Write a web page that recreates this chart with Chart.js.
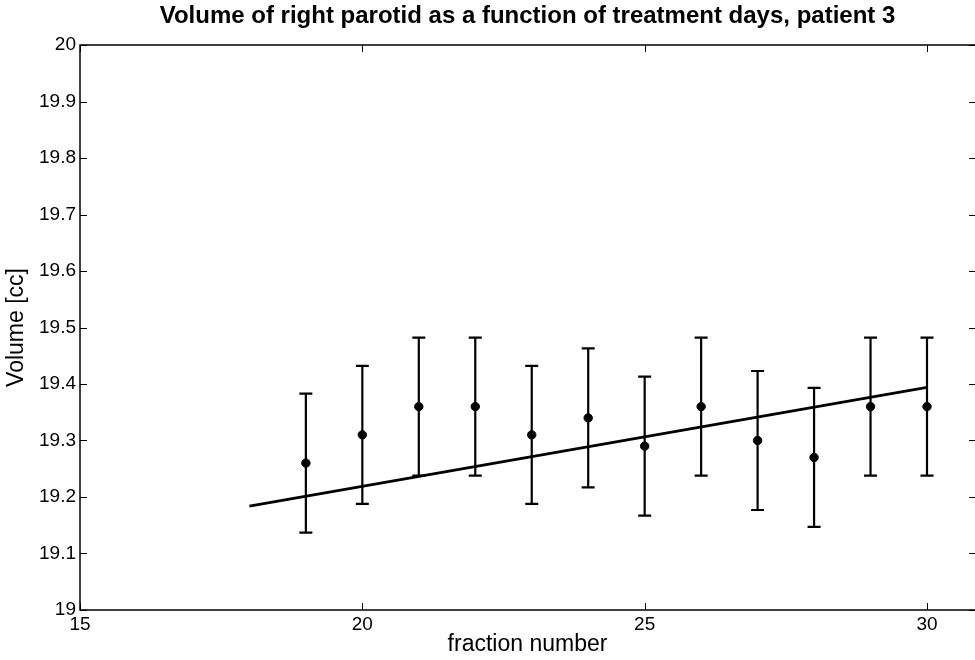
<!DOCTYPE html>
<html>
<head>
<meta charset="utf-8">
<title>Volume of right parotid</title>
<script src="https://cdn.jsdelivr.net/npm/chart.js@4.4.1/dist/chart.umd.min.js"></script>
<style>
  html, body { margin: 0; padding: 0; background: #fff; }
  #wrap { width: 975px; height: 660px; position: relative; }
</style>
</head>
<body>
<div id="wrap"><canvas id="chart" width="975" height="660"></canvas></div>
<script>
// Measured volumes per treatment fraction, with their uncertainty
const fractions = [19, 20, 21, 22, 23, 24, 25, 26, 27, 28, 29, 30];
const volumes   = [19.26, 19.31, 19.36, 19.36, 19.31, 19.34, 19.29, 19.36, 19.30, 19.27, 19.36, 19.36];
const errors    = [0.123, 0.122, 0.122, 0.122, 0.122, 0.123, 0.123, 0.122, 0.123, 0.123, 0.122, 0.122];

// Linear trend line end points
const fitX = [18, 30];
const fitY = [19.184, 19.394];

// Axis ticks
const xTicks = [15, 20, 25, 30];
const yTicks = [19, 19.1, 19.2, 19.3, 19.4, 19.5, 19.6, 19.7, 19.8, 19.9, 20];

const titleText = 'Volume of right parotid as a function of treatment days, patient 3';
const FONT = '"Liberation Sans", Arial, Helvetica, sans-serif';

// Vertical error bars with caps, drawn through the chart scales
const errorBars = {
  id: 'errorBars',
  beforeDatasetsDraw(chart) {
    const { ctx, scales: { x, y } } = chart;
    ctx.save();
    ctx.strokeStyle = '#000';
    ctx.lineWidth = 2.2;
    const cap = 6.5;
    fractions.forEach((f, i) => {
      const px = x.getPixelForValue(f);
      const top = y.getPixelForValue(volumes[i] + errors[i]);
      const bot = y.getPixelForValue(volumes[i] - errors[i]);
      ctx.beginPath();
      ctx.moveTo(px, top); ctx.lineTo(px, bot);
      ctx.moveTo(px - cap, top); ctx.lineTo(px + cap, top);
      ctx.moveTo(px - cap, bot); ctx.lineTo(px + cap, bot);
      ctx.stroke();
    });
    ctx.restore();
  }
};

// Axis lines with inward ticks on all four sides, plus the title
const frame = {
  id: 'frame',
  afterDraw(chart) {
    const { ctx, chartArea: a, scales: { x, y } } = chart;
    const t = 7;
    ctx.save();
    ctx.strokeStyle = '#000';
    ctx.lineWidth = 1.5;
    ctx.beginPath();
    ctx.moveTo(a.right + 2, a.top); ctx.lineTo(a.left, a.top);
    ctx.lineTo(a.left, a.bottom); ctx.lineTo(a.right + 2, a.bottom);
    ctx.stroke();
    ctx.lineWidth = 1;
    ctx.beginPath();
    xTicks.forEach(v => {
      const px = Math.round(x.getPixelForValue(v)) + 0.5;
      ctx.moveTo(px, a.bottom); ctx.lineTo(px, a.bottom - t);
      ctx.moveTo(px, a.top); ctx.lineTo(px, a.top + t);
    });
    yTicks.forEach(v => {
      const py = Math.round(y.getPixelForValue(v)) + 0.5;
      ctx.moveTo(a.left, py); ctx.lineTo(a.left + t, py);
      ctx.moveTo(a.right, py); ctx.lineTo(a.right - t + 1, py);
    });
    ctx.stroke();

    ctx.fillStyle = '#000';
    ctx.font = 'bold 24px ' + FONT;
    ctx.textAlign = 'center';
    ctx.textBaseline = 'middle';
    ctx.fillText(titleText, (a.left + a.right) / 2, 16);
    ctx.restore();
  }
};

new Chart(document.getElementById('chart'), {
  type: 'scatter',
  data: {
    datasets: [
      {
        label: 'trend',
        type: 'line',
        data: fitX.map((v, i) => ({ x: v, y: fitY[i] })),
        borderColor: '#000',
        borderWidth: 2.8,
        pointRadius: 0,
        fill: false,
        order: 2
      },
      {
        label: 'volume',
        data: fractions.map((f, i) => ({ x: f, y: volumes[i] })),
        backgroundColor: '#000',
        borderColor: '#000',
        pointRadius: 4.2,
        pointHoverRadius: 4.2,
        order: 1
      }
    ]
  },
  plugins: [errorBars, frame],
  options: {
    responsive: false,
    maintainAspectRatio: false,
    animation: false,
    devicePixelRatio: 1,
    layout: { autoPadding: false, padding: { top: 45, right: 0, bottom: 0, left: 0 } },
    plugins: {
      legend: { display: false },
      title: { display: false },
      tooltip: { enabled: false }
    },
    scales: {
      x: {
        type: 'linear',
        min: 15,
        max: 30.85,
        afterBuildTicks: s => { s.ticks = xTicks.map(v => ({ value: v })); },
        afterFit: s => { s.height = 50; s.paddingLeft = 0; s.paddingRight = 0; },
        grid: { display: false, drawTicks: false },
        border: { display: false },
        ticks: {
          color: '#000',
          padding: 3,
          autoSkip: false,
          maxRotation: 0,
          font: { family: FONT, size: 19 },
          callback: v => String(v)
        },
        title: {
          display: true,
          text: 'fraction number',
          color: '#000',
          font: { family: FONT, size: 23 },
          padding: { top: 0, bottom: 2 }
        }
      },
      y: {
        type: 'linear',
        min: 19,
        max: 20,
        afterBuildTicks: s => { s.ticks = yTicks.map(v => ({ value: v })); },
        afterFit: s => { s.width = 80; },
        grid: { display: false, drawTicks: false },
        border: { display: false },
        ticks: {
          color: '#000',
          padding: 4,
          autoSkip: false,
          font: { family: FONT, size: 19 },
          callback: v => String(Number(v.toFixed(1)))
        },
        title: {
          display: true,
          text: 'Volume [cc]',
          color: '#000',
          font: { family: FONT, size: 23 },
          padding: { top: 3, bottom: 0 }
        }
      }
    }
  }
});
</script>
</body>
</html>
